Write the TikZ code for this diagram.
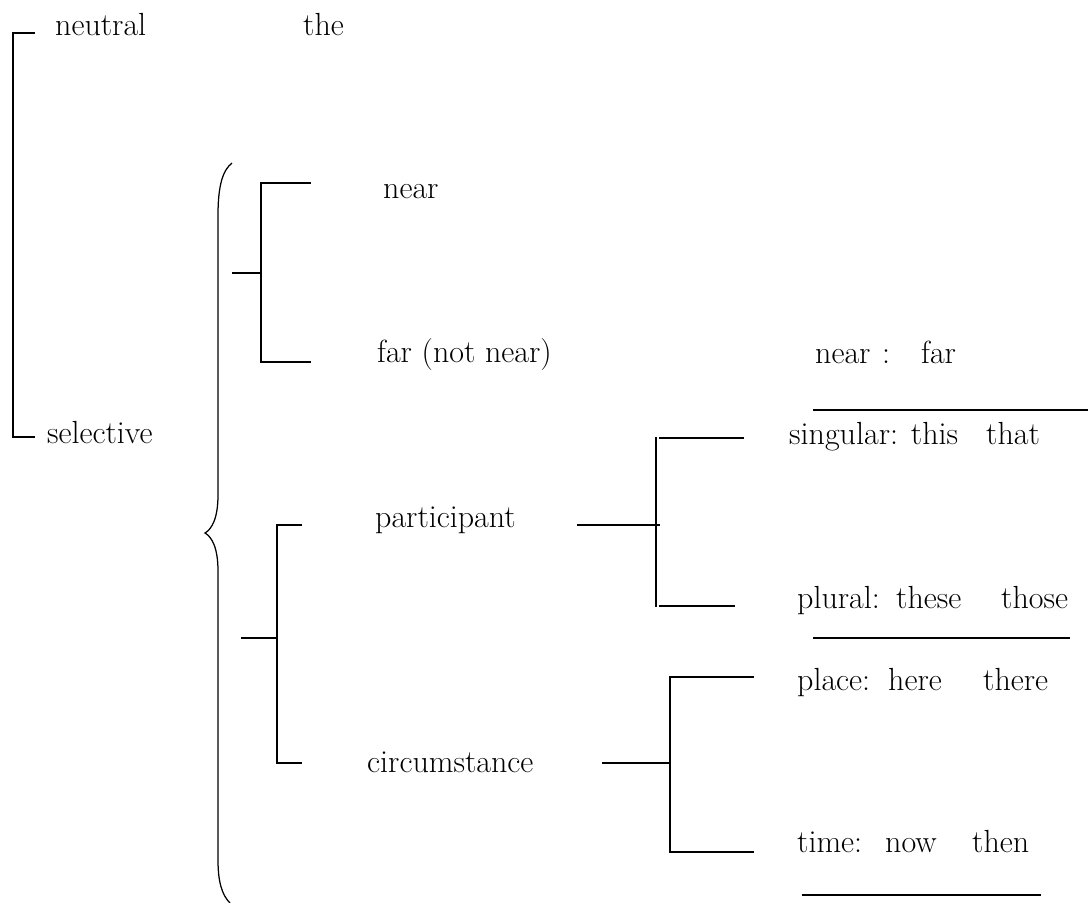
\documentclass[tikz,border=0pt]{standalone}
\begin{document}
\begin{tikzpicture}[x=1pt,y=-1pt,
  lbl/.style={anchor=base west,inner sep=0pt,font=\fontsize{32}{38}\selectfont},
  ln/.style={line width=1.25pt}]
\useasboundingbox (0,0) rectangle (1088,903);
% texts
\node[lbl] (neutral) at (55,35) {neutral};
\node[lbl] (the) at (303,35) {the};
\node[lbl] (selective) at (47,443) {selective};
\node[lbl] (near) at (383,198) {near};
\node[lbl] (far) at (377,362) {far (not near)};
\node[lbl] (nearfar) at (815,363) {\makebox[67pt][l]{near}\makebox[39pt][l]{:}far};
\node[lbl] (participant) at (375,527) {participant};
\node[lbl] (circ) at (367,772) {circumstance};
\node[lbl] (sing) at (789,444) {\makebox[197pt][l]{singular: this}that};
\node[lbl] (plur) at (797,608) {\makebox[99pt][l]{plural:}\makebox[105pt][l]{these}those};
\node[lbl] (place) at (797,690) {\makebox[91pt][l]{place:}\makebox[95pt][l]{here}there};
\node[lbl] (time) at (797,852) {\makebox[88pt][l]{time:}\makebox[87pt][l]{now}then};
% bracket neutral/selective
\coordinate (ns1) at (13,33);
\coordinate (ns2) at (13,437);
\draw[ln] (35,33) -- (ns1) -- (ns2) -- (35,437);
% near / far
\coordinate (nf1) at (261,183);
\coordinate (nf2) at (261,362);
\draw[ln] (311,183) -- (nf1) -- (nf2) -- (311,362);
\draw[ln] (232,273) -- (261,273);
% participant / circumstance
\coordinate (pc1) at (277,525);
\coordinate (pc2) at (277,763);
\draw[ln] (302,525) -- (pc1) -- (pc2) -- (302,763);
\draw[ln] (241,638) -- (277,638);
% singular / plural
\draw[ln] (656,437) -- (656,607);
\draw[ln] (659,438) -- (744,438);
\draw[ln] (659,606) -- (735,606);
\draw[ln] (577,525) -- (660,525);
% place / time
\coordinate (pt1) at (670,677);
\coordinate (pt2) at (670,852);
\draw[ln] (754,677) -- (pt1) -- (pt2) -- (754,852);
\draw[ln] (602,763) -- (670,763);
% rules
\draw[ln] (813,410) -- (1088,410);
\draw[ln] (813,638) -- (1070,638);
\draw[ln] (802,895) -- (1041,895);
% brace
\draw[ln] (232,163) .. controls (223,170) and (218,185) .. (218,215)
  -- (218,495) .. controls (218,518) and (212,529) .. (205,533)
  .. controls (212,537) and (218,548) .. (218,571)
  -- (218,860) .. controls (218,882) and (222,895) .. (230,903);
\end{tikzpicture}
\end{document}
